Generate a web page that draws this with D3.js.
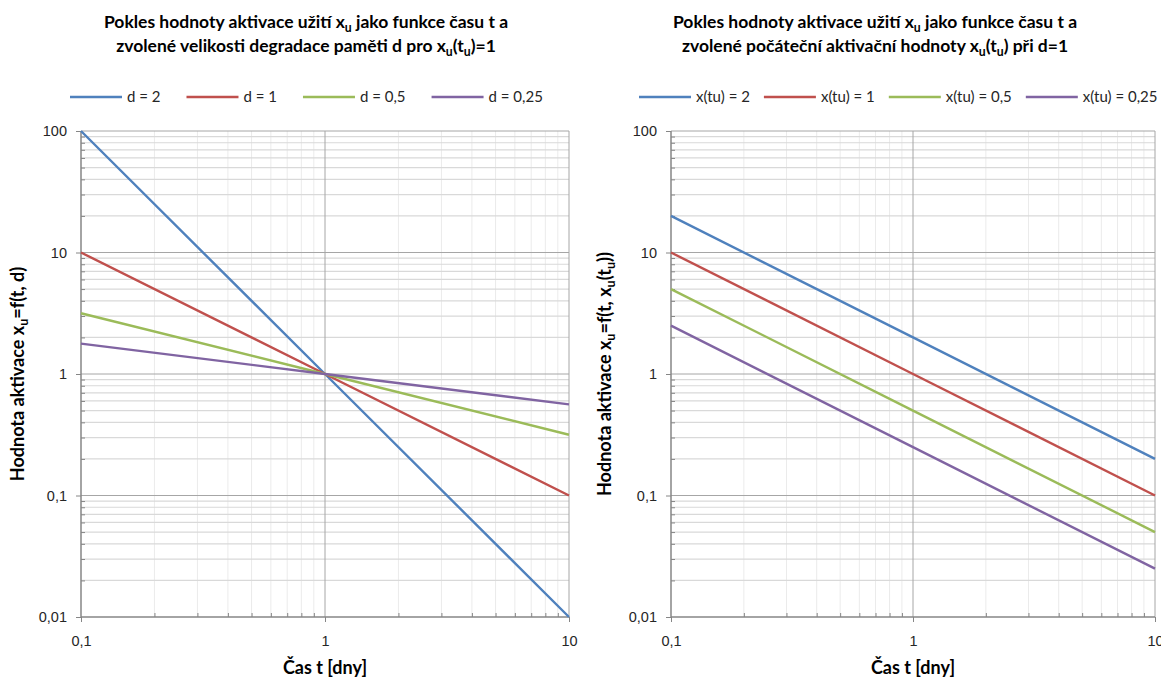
<!DOCTYPE html>
<html>
<head>
<meta charset="utf-8">
<script src="https://cdn.jsdelivr.net/npm/d3@7"></script>
<style>
  body { margin: 0; background: #fff; }
  svg { font-family: Lato, "Open Sans", sans-serif; }
  .title { font-weight: bold; font-size: 17.5px; fill: #000; }
  .axis-title { font-weight: bold; font-size: 18px; fill: #000; }
  .tick-label { font-size: 14.5px; fill: #262626; }
  .legend-text { font-size: 15px; fill: #262626; }
</style>
</head>
<body>
<svg id="chart" width="1161" height="677"></svg>
<script>
// ─── Data ─────────────────────────────────────────────────────────────────────
const TIMES = [0.1, 1, 10];

// left chart: x_u(t_u) = 1, varying d
const DECAY_LABELS = ['d = 2', 'd = 1', 'd = 0,5', 'd = 0,25'];
const DECAY_VALUES = [
  [100, 1, 0.01],
  [10, 1, 0.1],
  [3.162, 1, 0.3162],
  [1.778, 1, 0.5623],
];

// right chart: d = 1, varying x(tu)
const START_LABELS = ['x(tu) = 2', 'x(tu) = 1', 'x(tu) = 0,5', 'x(tu) = 0,25'];
const START_VALUES = [
  [20, 2, 0.2],
  [10, 1, 0.1],
  [5, 0.5, 0.05],
  [2.5, 0.25, 0.025],
];

const X_DOMAIN = [0.1, 10];
const Y_DOMAIN = [0.01, 100];
const X_TICKS = [0.1, 1, 10];
const Y_TICKS = [0.01, 0.1, 1, 10, 100];

const COLORS = ['#4F81BD', '#C0504D', '#9BBB59', '#8064A2'];

const cz = d3.formatLocale({ decimal: ',', thousands: ' ', grouping: [3], currency: ['', ' Kč'] });
const fmt = cz.format('~g');

const svg = d3.select('#chart');

// text helper: parts = [[text, isSub], ...]
function richText(sel, parts) {
  let sub = false;
  parts.forEach(([t, s]) => {
    const ts = sel.append('tspan').text(t);
    if (s && !sub) { ts.attr('dy', 4).style('font-size', '0.7em'); sub = true; }
    else if (s) { ts.style('font-size', '0.7em'); }
    else if (sub) { ts.attr('dy', -4); sub = false; }
  });
}

function drawChart(cfg) {
  const { x0, x1, y0, y1 } = cfg.plot;
  const x = d3.scaleLog().domain(X_DOMAIN).range([x0, x1]);
  const y = d3.scaleLog().domain(Y_DOMAIN).range([y1, y0]);
  const g = svg.append('g');

  const isMajor = v => Math.abs(Math.log10(v) - Math.round(Math.log10(v))) < 1e-9;
  const xAll = x.ticks();
  const yAll = y.ticks();

  // minor gridlines
  g.append('g').selectAll('line')
    .data(xAll.filter(v => !isMajor(v)))
    .join('line')
    .attr('x1', d => x(d)).attr('x2', d => x(d))
    .attr('y1', y0).attr('y2', y1)
    .attr('stroke', '#ebebeb').attr('stroke-width', 1);
  g.append('g').selectAll('line')
    .data(yAll.filter(v => !isMajor(v)))
    .join('line')
    .attr('x1', x0).attr('x2', x1)
    .attr('y1', d => y(d)).attr('y2', d => y(d))
    .attr('stroke', '#d9d9d9').attr('stroke-width', 1.2);

  // major gridlines
  g.append('g').selectAll('line')
    .data(X_TICKS.slice(1))
    .join('line')
    .attr('x1', d => x(d)).attr('x2', d => x(d))
    .attr('y1', y0).attr('y2', y1)
    .attr('stroke', '#a6a6a6').attr('stroke-width', 1);
  g.append('g').selectAll('line')
    .data(Y_TICKS.slice(1))
    .join('line')
    .attr('x1', x0).attr('x2', x1)
    .attr('y1', d => y(d)).attr('y2', d => y(d))
    .attr('stroke', '#a6a6a6').attr('stroke-width', 1);

  // axes: minor ticks inside, major ticks outside
  g.append('g')
    .attr('transform', `translate(${x0},0)`)
    .call(d3.axisLeft(y).tickValues(yAll.filter(v => !isMajor(v))).tickSize(-4).tickFormat(''))
    .call(a => a.select('.domain').remove())
    .call(a => a.selectAll('line').attr('stroke', '#868686'));
  g.append('g')
    .attr('transform', `translate(0,${y1})`)
    .call(d3.axisBottom(x).tickValues(xAll.filter(v => !isMajor(v))).tickSize(-4).tickFormat(''))
    .call(a => a.select('.domain').remove())
    .call(a => a.selectAll('line').attr('stroke', '#868686'));

  const yAxis = g.append('g')
    .attr('transform', `translate(${x0},0)`)
    .call(d3.axisLeft(y).tickValues(Y_TICKS).tickSize(5).tickPadding(9).tickFormat(fmt));
  yAxis.select('.domain').attr('stroke', '#868686').attr('stroke-width', 1.5).attr('d', `M0,${y0}V${y1}`);
  yAxis.selectAll('line').attr('stroke', '#868686');
  yAxis.selectAll('text').attr('class', 'tick-label').attr('font-family', null).attr('font-size', null);

  const xAxis = g.append('g')
    .attr('transform', `translate(0,${y1})`)
    .call(d3.axisBottom(x).tickValues(X_TICKS).tickSize(5).tickPadding(14).tickFormat(fmt));
  xAxis.select('.domain').attr('stroke', '#868686').attr('stroke-width', 1.5).attr('d', `M${x0},0H${x1}`);
  xAxis.selectAll('line').attr('stroke', '#868686');
  xAxis.selectAll('text').attr('class', 'tick-label').attr('font-family', null).attr('font-size', null);

  // series
  const line = d3.line().x(d => x(d[0])).y(d => y(d[1]));
  cfg.values.forEach((vals, i) => {
    g.append('path')
      .datum(TIMES.map((t, j) => [t, vals[j]]))
      .attr('d', line)
      .attr('fill', 'none')
      .attr('stroke', COLORS[i])
      .attr('stroke-width', 2.4);
  });

  // titles
  cfg.title.forEach((parts, i) => {
    const t = g.append('text').attr('class', 'title')
      .attr('x', cfg.titleX).attr('y', 28 + i * 24)
      .attr('text-anchor', 'middle');
    richText(t, parts);
  });

  const yt = g.append('text').attr('class', 'axis-title')
    .attr('transform', `translate(${cfg.yTitleX},${(y0 + y1) / 2}) rotate(-90)`)
    .attr('text-anchor', 'middle');
  richText(yt, cfg.yTitle);

  g.append('text').attr('class', 'axis-title')
    .attr('x', (x0 + x1) / 2).attr('y', 674)
    .attr('text-anchor', 'middle')
    .text('Čas t [dny]');

  // legend
  let lx = cfg.legendX;
  const ly = 97;
  cfg.labels.forEach((lab, i) => {
    g.append('line')
      .attr('x1', lx).attr('x2', lx + 52)
      .attr('y1', ly).attr('y2', ly)
      .attr('stroke', COLORS[i]).attr('stroke-width', 2.4);
    const t = g.append('text').attr('class', 'legend-text')
      .attr('x', lx + 57).attr('y', ly + 5)
      .text(lab);
    lx += 57 + t.node().getComputedTextLength() + cfg.legendGap;
  });
}

drawChart({
  plot: { x0: 81, x1: 569, y0: 131, y1: 617 },
  values: DECAY_VALUES,
  labels: DECAY_LABELS,
  legendX: 70, legendGap: 26,
  titleX: 306,
  yTitleX: 24,
  title: [
    [['Pokles hodnoty aktivace užití x'], ['u', true], [' jako funkce času t a']],
    [['zvolené velikosti degradace paměti d pro x'], ['u', true], ['(t'], ['u', true], [')=1']],
  ],
  yTitle: [['Hodnota aktivace x'], ['u', true], ['=f(t, d)']],
});

drawChart({
  plot: { x0: 671, x1: 1155, y0: 131, y1: 617 },
  values: START_VALUES,
  labels: START_LABELS,
  legendX: 639, legendGap: 14,
  titleX: 875,
  yTitleX: 611,
  title: [
    [['Pokles hodnoty aktivace užití x'], ['u', true], [' jako funkce času t a']],
    [['zvolené počáteční aktivační hodnoty x'], ['u', true], ['(t'], ['u', true], [') při d=1']],
  ],
  yTitle: [['Hodnota aktivace x'], ['u', true], ['=f(t, x'], ['u', true], ['(t'], ['u', true], ['))']],
});
</script>
</body>
</html>
